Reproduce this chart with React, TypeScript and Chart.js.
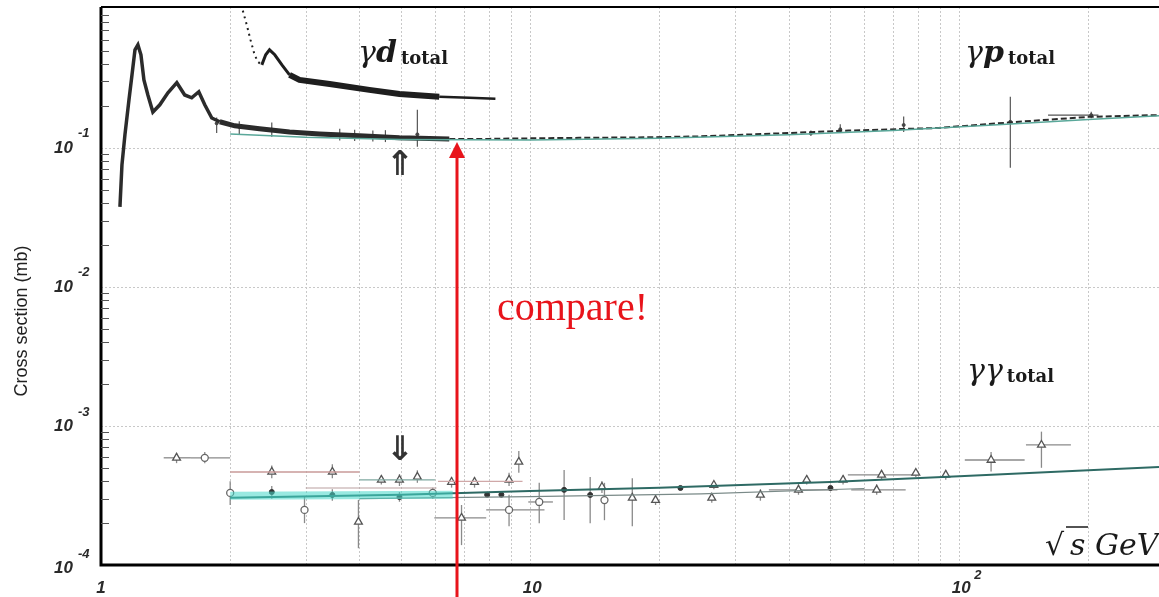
import React, { useEffect, useRef } from "react";
import { Chart, registerables } from "chart.js";
Chart.register(...registerables);

// ---------- axis ranges & labels ----------
const X_MIN = 1;
const X_MAX = 292;
const Y_MIN = 1e-4;
const Y_MAX = 1.03;
const xLabelValues = [1, 10, 100];
const xLabelBases = ["1", "10", "10"];
const xLabelExps = ["", "", "2"];
const yLabelValues = [1e-1, 1e-2, 1e-3, 1e-4];
const yLabelExps = ["-1", "-2", "-3", "-4"];
const yTitle = "Cross section (mb)";

// ---------- gamma-p total ----------
const gpX = [1.107, 1.119, 1.137, 1.162, 1.181, 1.2, 1.219, 1.239, 1.259, 1.286, 1.321, 1.371, 1.432, 1.502, 1.567, 1.627, 1.69, 1.745, 1.812, 1.891,
  2.05, 2.34, 2.75, 3.23, 4.0, 4.96, 6.48, 8, 10, 13, 18.9, 25, 37.9, 55.2, 89.4, 130, 200, 292];
const gpY = [0.0376, 0.0755, 0.124, 0.222, 0.335, 0.507, 0.551, 0.467, 0.308, 0.24, 0.181, 0.204, 0.249, 0.294, 0.24, 0.229, 0.253, 0.204, 0.164, 0.154,
  0.144, 0.137, 0.13, 0.126, 0.122, 0.118, 0.116, 0.116, 0.117, 0.118, 0.119, 0.121, 0.127, 0.133, 0.139, 0.152, 0.167, 0.172];
const gpFitX = [2, 3, 5, 10, 20, 40, 70, 120, 200, 292];
const gpFitY = [0.126, 0.119, 0.115, 0.114, 0.117, 0.124, 0.133, 0.146, 0.16, 0.17];
const gpErrX = [1.86, 2.1, 2.5, 3.6, 3.9, 4.3, 4.6, 5.46, 45.1, 52.8, 74.2, 131.5, 203];
const gpErrY = [0.15, 0.142, 0.135, 0.124, 0.122, 0.121, 0.12, 0.125, 0.127, 0.136, 0.146, 0.154, 0.172];
const gpErrLo = [0.128, 0.124, 0.12, 0.113, 0.112, 0.111, 0.11, 0.102, 0.122, 0.128, 0.13, 0.0718, 0.163];
const gpErrHi = [0.165, 0.155, 0.152, 0.137, 0.135, 0.133, 0.134, 0.188, 0.133, 0.148, 0.168, 0.233, 0.182];
const gpErrXLo = [null, null, null, null, null, null, null, null, null, null, null, null, 161];
const gpErrXHi = [null, null, null, null, null, null, null, null, null, null, null, null, 211];

// ---------- gamma-d total ----------
const gdX = [2.14, 2.186, 2.23, 2.28, 2.32, 2.37, 2.42, 2.47, 2.54, 2.64, 2.75, 2.9, 3.41, 4.22, 4.96, 6.14, 7.21, 8.3];
const gdY = [0.97, 0.767, 0.598, 0.467, 0.416, 0.395, 0.467, 0.507, 0.467, 0.395, 0.335, 0.308, 0.288, 0.261, 0.244, 0.233, 0.229, 0.225];

// ---------- gamma-gamma total ----------
const ggTriX = [1.5, 2.5, 3.46, 3.98, 4.5, 4.96, 5.46, 6.56, 6.92, 7.42, 8.93, 9.41, 14.7, 17.3, 19.6, 26.8, 26.5, 34.4, 42.2, 44.1, 53.6, 64.2, 65.9, 79.2, 93.0, 118.6, 155.4];
const ggTriY = [5.9e-4, 4.67e-4, 4.67e-4, 2.04e-4, 4.09e-4, 4.09e-4, 4.3e-4, 3.95e-4, 2.18e-4, 3.95e-4, 4.09e-4, 5.51e-4, 3.64e-4, 3.04e-4, 2.93e-4, 3.76e-4, 3.04e-4, 3.19e-4, 3.47e-4, 4.09e-4, 4.09e-4, 3.47e-4, 4.45e-4, 4.59e-4, 4.45e-4, 5.69e-4, 7.3e-4];
const ggTriLo = [5.4e-4, 4.2e-4, 4.2e-4, 1.32e-4, 3.8e-4, 3.7e-4, 3.9e-4, 3.6e-4, 1.39e-4, 3.6e-4, 3.7e-4, 4.6e-4, 3.3e-4, 1.9e-4, 2.7e-4, 3.5e-4, 2.8e-4, 2.9e-4, 3.2e-4, 3.8e-4, 3.8e-4, 3.2e-4, 4.1e-4, 4.3e-4, 4.1e-4, 4.7e-4, 5.0e-4];
const ggTriHi = [6.4e-4, 5.2e-4, 5.3e-4, 2.94e-4, 4.4e-4, 4.5e-4, 4.8e-4, 4.3e-4, 2.7e-4, 4.3e-4, 4.6e-4, 6.6e-4, 4.0e-4, 4.2e-4, 3.2e-4, 4.0e-4, 3.3e-4, 3.5e-4, 3.8e-4, 4.4e-4, 4.4e-4, 3.8e-4, 4.8e-4, 4.9e-4, 4.8e-4, 6.5e-4, 9.1e-4];
const ggTriXLo = [1.4, null, null, null, null, null, null, null, 5.98, null, null, null, null, null, null, null, null, null, 36, null, null, 56, 55, null, null, 103, 143];
const ggTriXHi = [1.62, null, null, null, null, null, null, null, 7.9, null, null, null, null, null, null, null, null, null, 52, null, null, 75, 80, null, null, 142, 182];

const ggCirX = [1.745, 2.0, 2.98, 5.93, 8.93, 10.5, 14.9];
const ggCirY = [5.9e-4, 3.3e-4, 2.49e-4, 3.3e-4, 2.49e-4, 2.84e-4, 2.93e-4];
const ggCirLo = [5.4e-4, 2.7e-4, 2.0e-4, 3.0e-4, 1.9e-4, 2.0e-4, 2.1e-4];
const ggCirHi = [6.5e-4, 4.0e-4, 3.1e-4, 3.6e-4, 3.2e-4, 3.9e-4, 3.9e-4];
const ggCirXLo = [1.62, null, null, null, 7.9, 9.9, null];
const ggCirXHi = [2.0, null, null, null, 10.8, 11.3, null];

const ggDotX = [2.5, 3.46, 4.96, 7.94, 8.57, 12.0, 13.8, 22.4, 50.1];
const ggDotY = [3.35e-4, 3.19e-4, 3.08e-4, 3.2e-4, 3.2e-4, 3.47e-4, 3.19e-4, 3.58e-4, 3.58e-4];
const ggDotLo = [3.0e-4, 2.9e-4, 2.85e-4, null, null, 2.11e-4, 2.0e-4, null, null];
const ggDotHi = [3.7e-4, 3.5e-4, 3.35e-4, null, null, 4.83e-4, 4.3e-4, null, null];

const ggFitX = [2, 5, 10, 20, 50, 100, 200, 292];
const ggFitY = [3.05e-4, 3.2e-4, 3.4e-4, 3.6e-4, 3.95e-4, 4.35e-4, 4.8e-4, 5.07e-4];
const ggFit2X = [4, 10, 25, 60];
const ggFit2Y = [3.0e-4, 3.1e-4, 3.25e-4, 3.55e-4];
const ggBandX = [2.0, 6.6];
const ggBandY = [3.15e-4, 3.2e-4];
const ggBinAX = [2.0, 4.0];
const ggBinAY = [4.67e-4, 4.67e-4];
const ggBinBX = [3.0, 6.05];
const ggBinBY = [3.58e-4, 3.58e-4];
const ggBinCX = [4.0, 6.0];
const ggBinCY = [4.09e-4, 4.09e-4];
const ggBinDX = [6.1, 9.6];
const ggBinDY = [4.0e-4, 4.0e-4];

const pts = (xs: number[], ys: number[]) => xs.map((x, i) => ({ x, y: ys[i] }));

const chartPlugin = {
  id: "sketch",
  beforeDatasetsDraw(chart: any) {
    const { ctx, chartArea: a, scales } = chart;
    const sx = scales.x, sy = scales.y;
    ctx.save();
    ctx.fillStyle = "#ffffff";
    ctx.fillRect(0, 0, chart.width, chart.height);
    // dotted grid
    ctx.strokeStyle = "#c8c8c8";
    ctx.lineWidth = 1;
    ctx.setLineDash([2, 2]);
    for (let d = 1; d <= 100; d *= 10) {
      for (let m = 1; m <= 9; m++) {
        const v = d * m;
        if (v <= X_MIN || v >= X_MAX) continue;
        const px = Math.round(sx.getPixelForValue(v)) + 0.5;
        ctx.beginPath();
        ctx.moveTo(px, a.top);
        ctx.lineTo(px, a.bottom);
        ctx.stroke();
      }
    }
    [1e-1, 1e-2, 1e-3].forEach((v) => {
      const py = Math.round(sy.getPixelForValue(v)) + 0.5;
      ctx.beginPath();
      ctx.moveTo(a.left, py);
      ctx.lineTo(a.right, py);
      ctx.stroke();
    });
    ctx.setLineDash([]);
    // error bars
    chart.data.datasets.forEach((ds: any) => {
      const e = ds.errorBars;
      if (!e) return;
      ctx.strokeStyle = e.color;
      ctx.lineWidth = e.width;
      ds.data.forEach((p: any, i: number) => {
        const px = sx.getPixelForValue(p.x);
        const py = sy.getPixelForValue(p.y);
        if (e.yLo && e.yLo[i] != null) {
          ctx.beginPath();
          ctx.moveTo(px, sy.getPixelForValue(e.yLo[i]));
          ctx.lineTo(px, sy.getPixelForValue(e.yHi[i]));
          ctx.stroke();
        }
        if (e.xLo && e.xLo[i] != null) {
          ctx.beginPath();
          ctx.moveTo(sx.getPixelForValue(e.xLo[i]), py);
          ctx.lineTo(sx.getPixelForValue(e.xHi[i]), py);
          ctx.stroke();
        }
      });
    });
    ctx.restore();
  },
  afterDraw(chart: any) {
    const { ctx, chartArea: a, scales } = chart;
    const sx = scales.x, sy = scales.y;
    ctx.save();
    // frame
    ctx.strokeStyle = "#000";
    ctx.lineWidth = 3;
    ctx.beginPath();
    ctx.moveTo(a.left, a.top);
    ctx.lineTo(a.left, a.bottom);
    ctx.lineTo(a.right, a.bottom);
    ctx.stroke();
    ctx.lineWidth = 2;
    ctx.beginPath();
    ctx.moveTo(a.left, a.top);
    ctx.lineTo(a.right, a.top);
    ctx.stroke();
    // minor y ticks
    ctx.lineWidth = 1;
    ctx.strokeStyle = "#555";
    for (let d = 1e-4; d < 1; d *= 10) {
      for (let m = 2; m <= 9; m++) {
        const v = d * m;
        if (v > Y_MAX) continue;
        const py = Math.round(sy.getPixelForValue(v)) + 0.5;
        ctx.beginPath();
        ctx.moveTo(a.left, py);
        ctx.lineTo(a.left + 8, py);
        ctx.stroke();
      }
    }
    // y tick labels
    ctx.fillStyle = "#2a2a2a";
    yLabelValues.forEach((v, i) => {
      const py = sy.getPixelForValue(v);
      ctx.font = "italic bold 17px 'Liberation Sans', Arial, sans-serif";
      ctx.textAlign = "right";
      ctx.textBaseline = "middle";
      ctx.fillText("10", 73, py + (i === 3 ? 3 : 0));
      ctx.font = "italic bold 13px 'Liberation Sans', Arial, sans-serif";
      ctx.textAlign = "left";
      ctx.fillText(yLabelExps[i], 78, py - 14 + (i === 3 ? 3 : 0));
    });
    // x tick labels
    xLabelValues.forEach((v, i) => {
      const px = sx.getPixelForValue(v);
      ctx.font = "italic bold 17px 'Liberation Sans', Arial, sans-serif";
      ctx.textAlign = "center";
      ctx.textBaseline = "middle";
      ctx.fillText(xLabelBases[i], px + (i === 0 ? 0 : 2), 588);
      if (xLabelExps[i]) {
        ctx.font = "italic bold 13px 'Liberation Sans', Arial, sans-serif";
        ctx.textAlign = "left";
        ctx.fillText(xLabelExps[i], px + 15, 575);
      }
    });
    // y title
    ctx.save();
    ctx.translate(22, 321);
    ctx.rotate(-Math.PI / 2);
    ctx.font = "18px 'Liberation Sans', Arial, sans-serif";
    ctx.textAlign = "center";
    ctx.textBaseline = "middle";
    ctx.fillStyle = "#222";
    ctx.fillText(yTitle, 0, 0);
    ctx.restore();

    // process labels
    const procLabel = (x: number, y: number, g1: string, g2: string, g2bold: boolean) => {
      ctx.textAlign = "left";
      ctx.textBaseline = "alphabetic";
      ctx.fillStyle = "#1a1a1a";
      ctx.font = "italic 30px 'DejaVu Serif', 'Liberation Serif', serif";
      ctx.fillText(g1, x, y);
      let w = ctx.measureText(g1).width;
      ctx.font = (g2bold ? "italic bold " : "italic ") + "30px 'DejaVu Serif', 'Liberation Serif', serif";
      ctx.fillText(g2, x + w, y);
      w += ctx.measureText(g2).width;
      ctx.font = "bold 18px 'DejaVu Serif', 'Liberation Serif', serif";
      ctx.fillText("total", x + w + 4, y + 2);
    };
    procLabel(358, 62, "\u03b3", "d", true);
    procLabel(965, 62, "\u03b3", "p", true);
    procLabel(967, 380, "\u03b3", "\u03b3", false);

    // sqrt(s) GeV
    ctx.fillStyle = "#1a1a1a";
    ctx.strokeStyle = "#1a1a1a";
    ctx.font = "italic 30px 'DejaVu Serif', 'Liberation Serif', serif";
    ctx.textAlign = "left";
    ctx.fillText("\u221a", 1045, 555);
    ctx.fillText("s", 1070, 555);
    ctx.lineWidth = 1.5;
    ctx.beginPath();
    ctx.moveTo(1066, 527);
    ctx.lineTo(1088, 527);
    ctx.stroke();
    ctx.fillText("GeV", 1095, 555);

    // double arrows
    ctx.font = "bold 34px 'DejaVu Sans', sans-serif";
    ctx.textAlign = "center";
    ctx.textBaseline = "middle";
    ctx.fillStyle = "#333";
    ctx.fillText("\u21d1", 400, 166);
    ctx.fillText("\u21d3", 400, 451);

    // red compare arrow
    ctx.strokeStyle = "#e8141b";
    ctx.fillStyle = "#e8141b";
    ctx.lineWidth = 3;
    ctx.beginPath();
    ctx.moveTo(457, 597);
    ctx.lineTo(457, 156);
    ctx.stroke();
    ctx.beginPath();
    ctx.moveTo(457, 142);
    ctx.lineTo(465, 158);
    ctx.lineTo(449, 158);
    ctx.closePath();
    ctx.fill();
    ctx.font = "40px 'Liberation Serif', 'Times New Roman', serif";
    ctx.textAlign = "left";
    ctx.textBaseline = "alphabetic";
    ctx.fillText("compare!", 497, 320);
    ctx.restore();
  },
};

export default function App() {
  const ref = useRef<HTMLCanvasElement>(null);
  useEffect(() => {
    document.body.style.margin = "0";
    const gpSeg = (ctx: any) => {
      const x = ctx.p0.parsed.x;
      if (x < 1.88) return 3.5;
      if (x < 5.5) return 5;
      return 2;
    };
    const gdSeg = (ctx: any) => {
      const x = ctx.p0.parsed.x;
      if (x < 2.36) return 2;
      if (x < 2.7) return 3;
      if (x < 5.2) return 6;
      return 2.5;
    };
    const chart = new Chart(ref.current!, {
      type: "scatter",
      data: {
        datasets: [
          { data: pts(ggBandX, ggBandY), showLine: true, borderColor: "rgba(70,215,200,0.55)", borderWidth: 8, pointRadius: 0 } as any,
          { data: pts(ggBinAX, ggBinAY), showLine: true, borderColor: "#c99a98", borderWidth: 1.5, pointRadius: 0 },
          { data: pts(ggBinBX, ggBinBY), showLine: true, borderColor: "#b9a0a0", borderWidth: 1.2, pointRadius: 0 },
          { data: pts(ggBinCX, ggBinCY), showLine: true, borderColor: "#7fa8a0", borderWidth: 1.2, pointRadius: 0 },
          { data: pts(ggBinDX, ggBinDY), showLine: true, borderColor: "#d0a8a8", borderWidth: 1.2, pointRadius: 0 },
          { data: pts(ggFit2X, ggFit2Y), showLine: true, borderColor: "#7a8a88", borderWidth: 1.2, pointRadius: 0 },
          { data: pts(ggFitX, ggFitY), showLine: true, borderColor: "#2e6a64", borderWidth: 2, pointRadius: 0 },
          { data: pts(gpFitX, gpFitY), showLine: true, borderColor: "#5aa89a", borderWidth: 1.5, pointRadius: 0 },
          {
            data: pts(gpX, gpY), showLine: true, borderColor: "#2b2b2b", borderWidth: 2, pointRadius: 0,
            segment: { borderWidth: gpSeg, borderDash: (c: any) => (c.p0.parsed.x > 6 ? [6, 3] : undefined) },
          } as any,
          {
            data: pts(gdX, gdY), showLine: true, borderColor: "#1e1e1e", borderWidth: 3, pointRadius: 0,
            segment: { borderWidth: gdSeg, borderDash: (c: any) => (c.p0.parsed.x < 2.36 ? [2, 4] : undefined) },
          } as any,
          {
            data: pts(gpErrX, gpErrY), pointRadius: 1.5, pointBackgroundColor: "#444", pointBorderColor: "#444",
            errorBars: { yLo: gpErrLo, yHi: gpErrHi, xLo: gpErrXLo, xHi: gpErrXHi, color: "#555", width: 1.2 },
          } as any,
          {
            data: pts(ggDotX, ggDotY), pointRadius: 2.5, pointBackgroundColor: "#333", pointBorderColor: "#333",
            errorBars: { yLo: ggDotLo, yHi: ggDotHi, color: "#8a8a8a", width: 1.3 },
          } as any,
          {
            data: pts(ggCirX, ggCirY), pointRadius: 3.5, pointStyle: "circle", pointBackgroundColor: "#fff", pointBorderColor: "#666", pointBorderWidth: 1.3,
            errorBars: { yLo: ggCirLo, yHi: ggCirHi, xLo: ggCirXLo, xHi: ggCirXHi, color: "#8a8a8a", width: 1.3 },
          } as any,
          {
            data: pts(ggTriX, ggTriY), pointRadius: 4.5, pointStyle: "triangle", pointBackgroundColor: "#fff", pointBorderColor: "#555", pointBorderWidth: 1.3,
            errorBars: { yLo: ggTriLo, yHi: ggTriHi, xLo: ggTriXLo, xHi: ggTriXHi, color: "#8a8a8a", width: 1.3 },
          } as any,
        ],
      },
      options: {
        responsive: false,
        animation: false,
        layout: { autoPadding: false, padding: { left: 101, top: 7, right: 0, bottom: 32 } },
        plugins: { legend: { display: false }, tooltip: { enabled: false } },
        scales: {
          x: { type: "logarithmic", min: X_MIN, max: X_MAX, display: false },
          y: { type: "logarithmic", min: Y_MIN, max: Y_MAX, display: false },
        },
      } as any,
      plugins: [chartPlugin],
    });
    return () => chart.destroy();
  }, []);
  return (
    <div style={{ position: "absolute", left: 0, top: 0, width: 1159, height: 597 }}>
      <canvas ref={ref} width={1159} height={597} style={{ width: 1159, height: 597 }} />
    </div>
  );
}
